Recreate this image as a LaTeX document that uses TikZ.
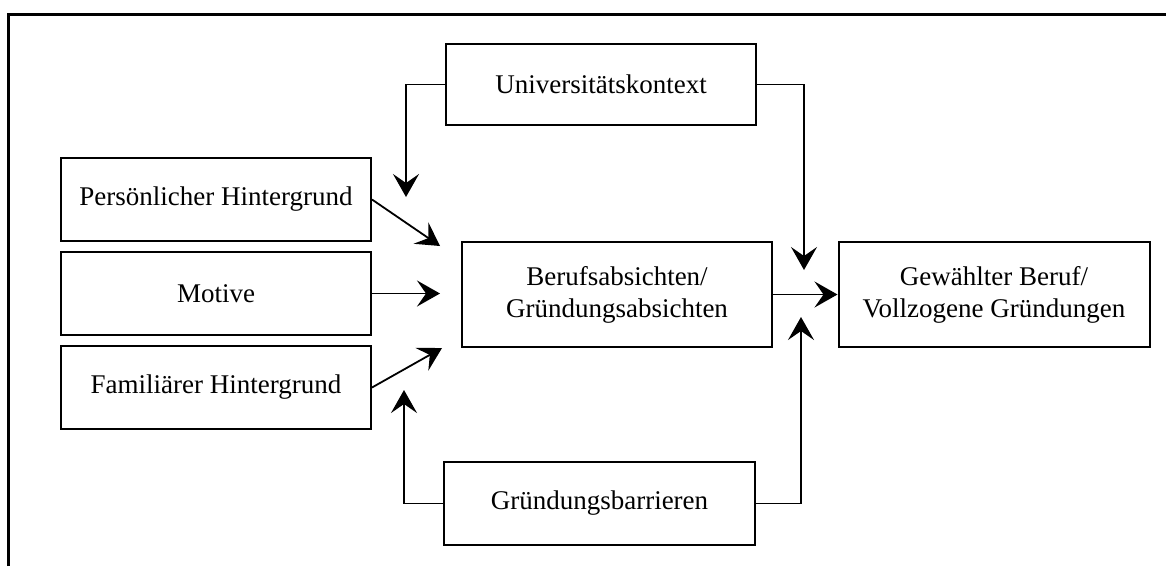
\documentclass[tikz,border=0pt]{standalone}
\usepackage{fontspec}
\setmainfont{Liberation Serif}
\usetikzlibrary{arrows.meta}
\tikzset{
  box/.style={draw, line width=2pt, rectangle, align=center, inner sep=0pt,
    font=\fontsize{27}{32}\selectfont},
  conn/.style={line width=1.8pt, -{Stealth[length=23pt, width=26pt, inset=9pt]}},
}
\begin{document}
\begin{tikzpicture}[x=1pt, y=-1pt]
\useasboundingbox (0,0) rectangle (1166,566);
\draw[line width=3pt] (8,566) -- (8,14) -- (1166,14);

\node[box, minimum width=310pt, minimum height=81pt] (univ) at (601,84.5) {Universitätskontext};
\node[box, minimum width=310pt, minimum height=83pt] (pers) at (216,199.5) {Persönlicher Hintergrund};
\node[box, minimum width=310pt, minimum height=83pt] (mot) at (216,293.5) {Motive};
\node[box, minimum width=310pt, minimum height=83pt] (fam) at (216,387.5) {Familiärer Hintergrund};
\node[box, minimum width=310pt, minimum height=105pt] (beruf) at (617,294.5) {Berufsabsichten/\\Gründungsabsichten};
\node[box, minimum width=311pt, minimum height=105pt] (gew) at (994,294.5) {Gewählter Beruf/\\Vollzogene Gründungen};
\node[box, minimum width=311pt, minimum height=83pt] (barr) at (599.5,503.5) {Gründungsbarrieren};

\coordinate (c1) at (406,197);
\coordinate (c2) at (804,270);
\coordinate (c3) at (440,246);
\coordinate (c4) at (440,293.5);
\coordinate (c5) at (442,348);
\coordinate (c6) at (404,390);
\coordinate (c7) at (801,317);

\draw[conn] (univ.west) -| (c1);
\draw[conn] (univ.east) -| (c2);
\draw[conn] (pers.east) -- (c3);
\draw[conn] (mot.east) -- (c4);
\draw[conn] (fam.east) -- (c5);
\draw[conn] (barr.west) -| (c6);
\draw[conn] (barr.east) -| (c7);
\draw[conn] (beruf.east) -- (gew.west);
\end{tikzpicture}
\end{document}
